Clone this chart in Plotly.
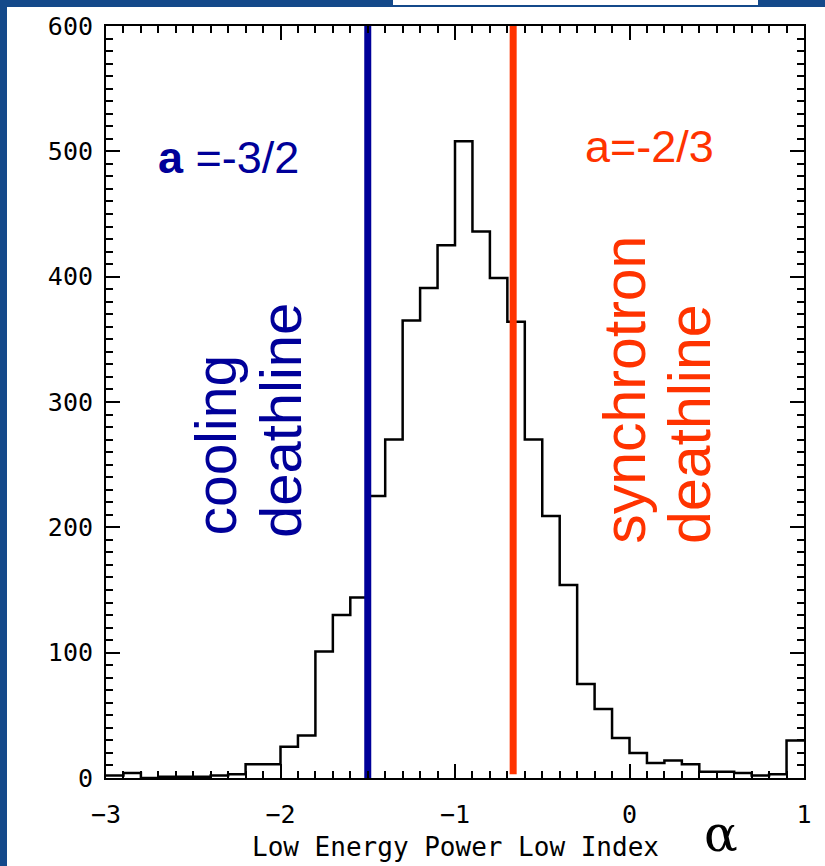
import plotly.graph_objects as go

# Histogram of the low-energy power-law index (alpha), bins of width 0.1
bin_start = -3.0
bin_width = 0.1
counts = [2, 4, 0, 1, 1, 1, 2, 3, 11, 11,
          25, 34, 101, 130, 144, 225, 270, 365, 391, 425,
          508, 436, 399, 364, 270, 209, 154, 75, 55, 32,
          20, 12, 14, 11, 5, 5, 4, 2, 3, 30]
bin_edges = [round(bin_start + i * bin_width, 1) for i in range(len(counts) + 1)]

# Deathlines
alpha_cooling = -3 / 2
alpha_synchrotron = -2 / 3

x_ticks = [-3, -2, -1, 0, 1]
x_tick_text = ["\u22123", "\u22122", "\u22121", "0", "1"]
y_ticks = [0, 100, 200, 300, 400, 500, 600]

BLUE = "#000099"
RED = "#FF3300"
BG = "#14498a"

fig = go.Figure()

fig.add_trace(go.Scatter(
    x=bin_edges,
    y=counts + [counts[-1]],
    mode="lines",
    line=dict(color="black", width=2.5, shape="hv"),
    hoverinfo="skip",
))

fig.add_trace(go.Scatter(
    x=[alpha_cooling, alpha_cooling], y=[0, 600],
    mode="lines", line=dict(color=BLUE, width=7), hoverinfo="skip",
))
fig.add_trace(go.Scatter(
    x=[alpha_synchrotron, alpha_synchrotron], y=[3, 600],
    mode="lines", line=dict(color=RED, width=7), hoverinfo="skip",
))

axis_common = dict(
    showline=True, linecolor="black", linewidth=2, mirror="ticks",
    ticks="inside", ticklen=14, tickwidth=2, tickcolor="black",
    showgrid=False, zeroline=False,
    tickfont=dict(family="DejaVu Sans Mono", size=25, color="black"),
)

fig.update_xaxes(
    range=[-3, 1], tickmode="array", tickvals=x_ticks, ticktext=x_tick_text,
    ticklabelstandoff=13,
    minor=dict(ticks="inside", dtick=0.1, ticklen=7, tickwidth=2, tickcolor="black"),
    **axis_common,
)
fig.update_yaxes(
    range=[0, 600], tickmode="array", tickvals=y_ticks,
    ticklabelstandoff=6,
    minor=dict(ticks="inside", dtick=10, ticklen=7, tickwidth=2, tickcolor="black"),
    **axis_common,
)

label_font = "Liberation Sans, Arial"
annotations = [
    dict(text="<b>a</b> =-3/2", x=-2.708, y=495, xref="x", yref="y",
         xanchor="left", yanchor="middle", showarrow=False, borderpad=0,
         font=dict(family=label_font, size=45, color=BLUE)),
    dict(text="a=-2/3", x=-0.263, y=504, xref="x", yref="y",
         xanchor="left", yanchor="middle", showarrow=False, borderpad=0,
         font=dict(family=label_font, size=45, color=RED)),
    dict(text="cooling", x=-2.370, y=193, xref="x", yref="y", textangle=-90,
         xanchor="center", yanchor="bottom", showarrow=False, borderpad=0,
         font=dict(family=label_font, size=57, color=BLUE)),
    dict(text="deathline", x=-2.003, y=191, xref="x", yref="y", textangle=-90,
         xanchor="center", yanchor="bottom", showarrow=False, borderpad=0,
         font=dict(family=label_font, size=58, color=BLUE)),
    dict(text="synchrotron", x=-0.026, y=186, xref="x", yref="y", textangle=-90,
         xanchor="center", yanchor="bottom", showarrow=False, borderpad=0,
         font=dict(family=label_font, size=59, color=RED)),
    dict(text="deathline", x=0.347, y=186, xref="x", yref="y", textangle=-90,
         xanchor="center", yanchor="bottom", showarrow=False, borderpad=0,
         font=dict(family=label_font, size=59, color=RED)),
    dict(text="Low Energy Power Low Index", x=0.5, y=0, xref="paper", yref="paper",
         yshift=-69, xanchor="center", yanchor="middle", showarrow=False,
         font=dict(family="DejaVu Sans Mono", size=26, color="black")),
    dict(text="\u03b1", x=(721 - 106) / 698, y=0, xref="paper", yref="paper",
         yshift=-86, xanchor="center", yanchor="bottom", showarrow=False,
         borderpad=0,
         font=dict(family="DejaVu Serif", size=50, color="black")),
]

shapes = [
    # white slide panel behind the chart
    dict(type="rect", xref="paper", yref="paper", layer="below",
         x0=(7 - 106) / 698, x1=1.1, y0=-0.2, y1=(778 - 4) / 755,
         fillcolor="white", line=dict(width=0)),
    # small white strip along the top edge
    dict(type="rect", xref="paper", yref="paper", layer="below",
         x0=(393 - 106) / 698, x1=(758 - 106) / 698,
         y0=(778 - 2) / 755, y1=1.1,
         fillcolor="white", line=dict(width=0)),
]

fig.update_layout(
    width=825, height=866,
    margin=dict(l=106, r=21, t=23, b=88),
    paper_bgcolor=BG, plot_bgcolor="white",
    showlegend=False,
    annotations=annotations,
    shapes=shapes,
)

fig.write_html("out.html")
